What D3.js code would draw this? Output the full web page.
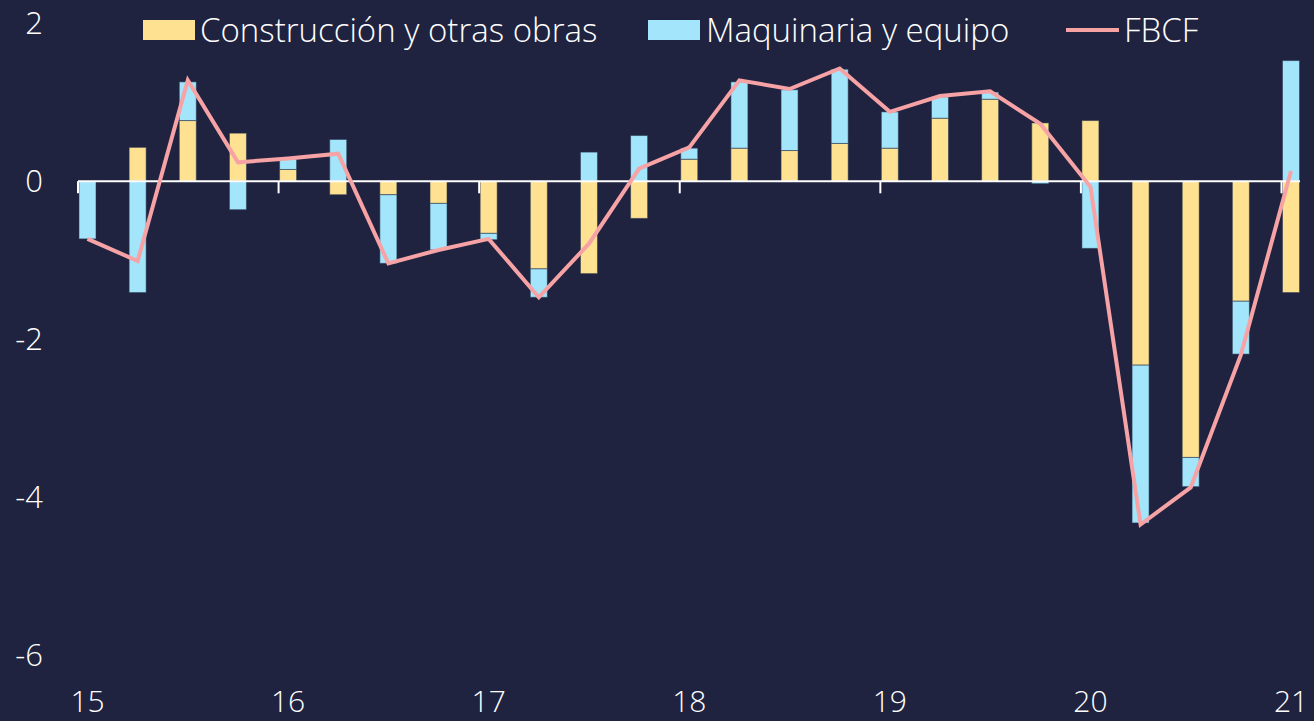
<!DOCTYPE html>
<html><head><meta charset="utf-8">
<script src="https://cdn.jsdelivr.net/npm/d3@7"></script>
<style>
html,body{margin:0;padding:0;background:#1f2340;}
svg{display:block;}
text{font-family:"Open Sans","Noto Sans",sans-serif;font-weight:300;fill:#ffffff;}
</style></head>
<body>
<svg id="chart" width="1314" height="721"></svg>
<script>
const quarters = ["15Q1","15Q2","15Q3","15Q4","16Q1","16Q2","16Q3","16Q4","17Q1","17Q2","17Q3","17Q4",
  "18Q1","18Q2","18Q3","18Q4","19Q1","19Q2","19Q3","19Q4","20Q1","20Q2","20Q3","20Q4","21Q1"];
const construccion = [0.00,0.43,0.77,0.61,0.15,-0.17,-0.17,-0.28,-0.66,-1.11,-1.17,-0.47,
  0.28,0.42,0.39,0.48,0.42,0.80,1.04,0.74,0.77,-2.33,-3.50,-1.52,-1.41];
const maquinaria = [-0.73,-1.41,0.49,-0.36,0.13,0.53,-0.87,-0.59,-0.08,-0.36,0.37,0.58,
  0.14,0.84,0.77,0.94,0.46,0.27,0.09,-0.03,-0.85,-2.00,-0.37,-0.67,1.53];
const fbcf = [-0.73,-1.01,1.28,0.24,0.29,0.35,-1.04,-0.87,-0.73,-1.47,-0.79,0.16,
  0.43,1.28,1.17,1.43,0.88,1.08,1.14,0.73,-0.07,-4.35,-3.88,-2.20,0.13];
const yearLabels = ["15","16","17","18","19","20","21"];
const yTicks = [2,0,-2,-4,-6];
const seriesNames = ["Construcción y otras obras","Maquinaria y equipo","FBCF"];

const colors = {bg:"#1f2340", con:"#ffe291", maq:"#a3e5fb", line:"#f7a3a6"};

const svg = d3.select("#chart");
svg.append("rect").attr("width",1314).attr("height",721).attr("fill",colors.bg);

const x = d3.scalePoint().domain(quarters).range([87.5, 1291]);
const y = d3.scaleLinear().domain([-6, 2]).range([654.7, 23.5]);
const barW = 17;

const rows = quarters.map((q,i)=>({q, con:construccion[i], maq:maquinaria[i]}));
const stack = d3.stack().keys(["con","maq"]).offset(d3.stackOffsetDiverging);
const stacked = stack(rows);

svg.append("g").selectAll("g").data(stacked).join("g")
  .attr("fill", d => d.key === "con" ? colors.con : colors.maq)
  .selectAll("rect").data(d => d).join("rect")
  .attr("x", d => x(d.data.q) - barW/2)
  .attr("width", barW)
  .attr("y", d => y(Math.max(d[0], d[1])))
  .attr("height", d => Math.abs(y(d[0]) - y(d[1])))
  .attr("stroke", "rgba(40,55,80,0.55)")
  .attr("stroke-width", 1);

// zero axis line
const x0 = x(quarters[0]) - 9.5, x1 = x(quarters[quarters.length-1]) + 9;
svg.append("line").attr("x1", x0).attr("x2", x1).attr("y1", y(0)).attr("y2", y(0))
  .attr("stroke", "#ffffff").attr("stroke-width", 2);
// year tick marks
yearLabels.forEach((yl,k)=>{
  const xx = x(quarters[k*4]) - 9.5;
  svg.append("line").attr("x1", xx).attr("x2", xx).attr("y1", y(0)).attr("y2", y(0)+12)
    .attr("stroke","#ffffff").attr("stroke-width",2);
});

// FBCF line
const line = d3.line().x((d,i)=>x(quarters[i])).y(d=>y(d));
svg.append("path").datum(fbcf).attr("d", line).attr("fill","none")
  .attr("stroke", colors.line).attr("stroke-width", 4).attr("stroke-linejoin","miter");

// Y labels
svg.append("g").selectAll("text").data(yTicks).join("text")
  .attr("x", 43).attr("y", d => y(d)).attr("dy","0.35em")
  .attr("text-anchor","end").attr("font-size", 31).text(d => d);

// X labels
svg.append("g").selectAll("text").data(yearLabels).join("text")
  .attr("x", (d,k) => x(quarters[k*4])).attr("y", 701).attr("dy","0.35em")
  .attr("text-anchor","middle").attr("font-size", 30).text(d => d);

// Legend
const lg = svg.append("g");
lg.append("rect").attr("x",143).attr("y",20).attr("width",52).attr("height",20).attr("fill",colors.con);
lg.append("text").attr("x",200).attr("y",30).attr("dy","0.35em").attr("font-size",33).text(seriesNames[0]);
lg.append("rect").attr("x",648).attr("y",20).attr("width",52).attr("height",20).attr("fill",colors.maq);
lg.append("text").attr("x",706).attr("y",30).attr("dy","0.35em").attr("font-size",33).text(seriesNames[1]);
lg.append("line").attr("x1",1066).attr("x2",1119).attr("y1",30).attr("y2",30)
  .attr("stroke",colors.line).attr("stroke-width",4);
lg.append("text").attr("x",1124).attr("y",30).attr("dy","0.35em").attr("font-size",33).text(seriesNames[2]);
</script>
</body></html>
